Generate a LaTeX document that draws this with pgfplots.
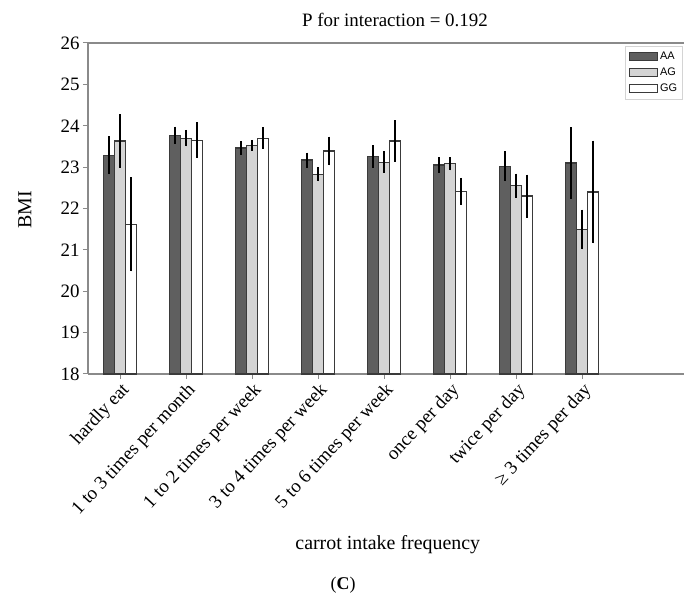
\documentclass[border=0pt]{standalone}
\usepackage{fontspec}
\setmainfont{Liberation Serif}
\newfontfamily\legfont{Liberation Sans}
\usepackage{pgfplots}
\pgfplotsset{compat=1.18}
\definecolor{darkbar}{HTML}{5F5F5F}
\definecolor{lightbar}{HTML}{D4D4D4}
\definecolor{edgec}{HTML}{3A3A3A}
\definecolor{axc}{HTML}{8A8A8A}
\begin{document}
\begin{tikzpicture}
\useasboundingbox (0,0) rectangle (687bp,607bp);
\begin{axis}[
  at={(88bp,233bp)}, anchor=south west,
  width=596bp, height=331bp, scale only axis,
  clip=false,
  xmin=-0.485, xmax=8.545, ymin=18, ymax=26,
  ytick={18,19,...,26},
  xtick={0,...,7},
  xticklabels={hardly eat,1 to 3 times per month,1 to 2 times per week,3 to 4 times per week,5 to 6 times per week,once per day,twice per day,≥ 3 times per day},
  x tick label style={rotate=47, anchor=north east, font=\fontsize{19}{21}\selectfont, inner sep=1.5bp},
  y tick label style={font=\fontsize{19}{21}\selectfont},
  /pgf/number format/assume math mode=true,
  tick align=outside, tick pos=left,
  major tick length=5bp,
  axis line style={axc, line width=1.3bp},
  tick style={axc, line width=1bp},
  axis x line*=bottom, axis y line*=left,
  ybar=0pt, bar width=11bp,
  every axis title shift=0pt,
  title={P for interaction = 0.192},
  title style={at={(axis description cs:0.515,1.069)}, anchor=center, font=\fontsize{19}{21}\selectfont},
  xlabel={carrot intake frequency},
  xlabel style={at={(axis description cs:0.503,-0.517)}, anchor=center, font=\fontsize{20}{22}\selectfont},
  ylabel={BMI},
  ylabel style={at={(axis description cs:-0.106,0.495)}, anchor=center, rotate=0, font=\fontsize{20}{22}\selectfont},
  legend style={at={(axis description cs:0.998,0.99)}, anchor=north east, draw=lightbar, font=\legfont\fontsize{11}{12}\selectfont, row sep=3bp, inner sep=3.5bp},
  legend cell align=left,
  legend image code/.code={\draw[#1, line width=1.3bp] (0bp,-4bp) rectangle (28bp,4bp);},
  error bars/y dir=both, error bars/y explicit,
  error bars/error mark=none,
  error bars/error bar style={black, line width=2.3bp},
]
\draw[axc, line width=1.3bp] (rel axis cs:0,1) -- (rel axis cs:1,1);
\addplot[fill=darkbar, draw=edgec, line width=1.2bp] coordinates {
 (0,23.29) +- (0,0.46)
 (1,23.77) +- (0,0.21)
 (2,23.46) +- (0,0.16)
 (3,23.17) +- (0,0.18)
 (4,23.26) +- (0,0.27)
 (5,23.05) +- (0,0.19)
 (6,23.02) +- (0,0.36)
 (7,23.10) +- (0,0.86)
};
\addplot[fill=lightbar, draw=edgec, line width=1.2bp] coordinates {
 (0,23.63) +- (0,0.65)
 (1,23.70) +- (0,0.20)
 (2,23.53) +- (0,0.13)
 (3,22.83) +- (0,0.17)
 (4,23.12) +- (0,0.26)
 (5,23.08) +- (0,0.16)
 (6,22.55) +- (0,0.29)
 (7,21.49) +- (0,0.48)
};
\addplot[fill=white, draw=edgec, line width=1.2bp] coordinates {
 (0,21.62) +- (0,1.14)
 (1,23.65) +- (0,0.43)
 (2,23.70) +- (0,0.26)
 (3,23.39) +- (0,0.35)
 (4,23.63) +- (0,0.50)
 (5,22.41) +- (0,0.33)
 (6,22.30) +- (0,0.52)
 (7,22.40) +- (0,1.24)
};
\legend{AA,AG,GG}
\node[font=\fontsize{18}{20}\selectfont] at (axis description cs:0.428,-0.637) {(\textbf{C})};
\end{axis}
\end{tikzpicture}
\end{document}
